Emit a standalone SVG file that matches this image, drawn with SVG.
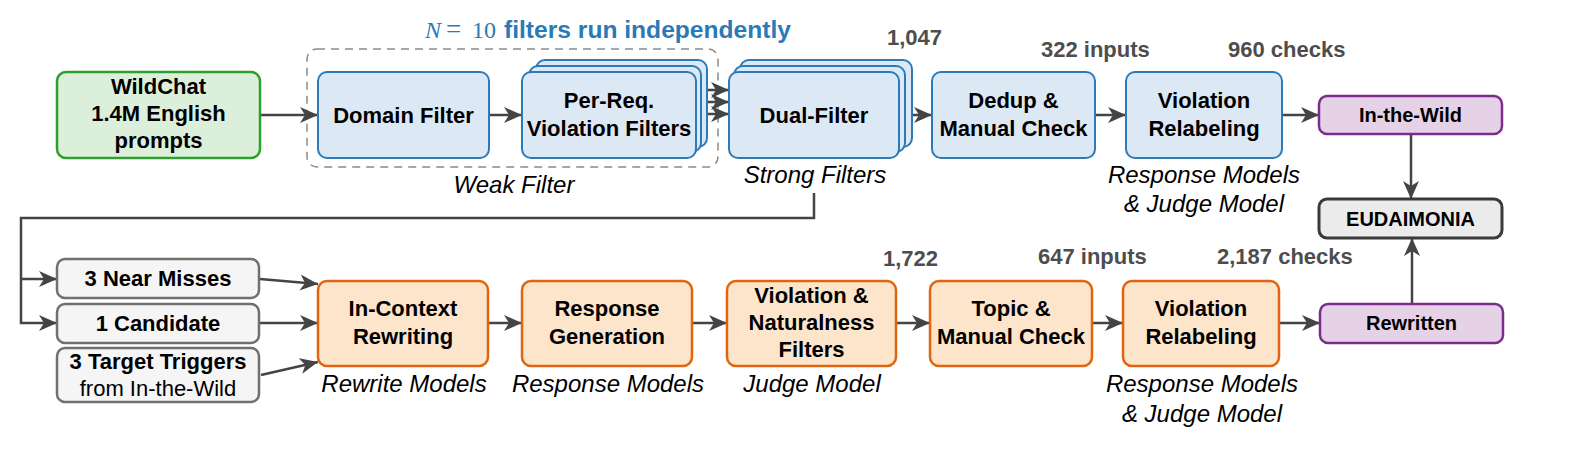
<svg xmlns="http://www.w3.org/2000/svg" width="1570" height="451" viewBox="0 0 1570 451">
<defs>
<marker id="arr" markerUnits="userSpaceOnUse" markerWidth="20" markerHeight="18" refX="18" refY="8" orient="auto">
<path d="M0,0 L18,8 L0,16 L5,8 Z" fill="#444"/>
</marker>
<style>
.t{font-family:"Liberation Sans",Arial,sans-serif;font-weight:bold;font-size:22px;fill:#000;text-anchor:middle}
.s{font-size:20px}
.r{font-weight:normal}
.i{font-family:"Liberation Sans",Arial,sans-serif;font-style:italic;font-size:24px;fill:#000;text-anchor:middle}
.n{font-family:"Liberation Sans",Arial,sans-serif;font-weight:bold;font-size:22px;fill:#4d4d4d}
.blue{fill:#dde8f5;stroke:#2b7bba;stroke-width:2}
.green{fill:#dcefdb;stroke:#2e9e2e;stroke-width:2.5}
.orange{fill:#fde5cc;stroke:#e0650e;stroke-width:2.5}
.purple{fill:#e6d2e6;stroke:#7b2d8e;stroke-width:2.5}
.gray{fill:#f5f5f5;stroke:#707070;stroke-width:2.5}
.c{fill:none;stroke:#444;stroke-width:2.5}
</style>
</defs>

<!-- dashed group -->
<rect x="307" y="49" width="411" height="118" rx="10" fill="none" stroke="#8a8a8a" stroke-width="1.5" stroke-dasharray="8,6"/>
<text x="425" y="38" font-family="Liberation Serif,serif" font-style="italic" font-size="24" fill="#2a7ab8">N</text>
<text x="446" y="38" font-family="Liberation Serif,serif" font-size="27" fill="#2a7ab8">=</text>
<text x="472" y="38" font-family="Liberation Serif,serif" font-size="24" fill="#2a7ab8">10</text>
<text x="504" y="38" font-family="Liberation Sans,Arial,sans-serif" font-weight="bold" font-size="24.6" fill="#2a7ab8">filters run independently</text>
<text class="i" x="514" y="193">Weak Filter</text>
<text class="i" x="815" y="183">Strong Filters</text>
<text class="i" x="1204" y="183">Response Models</text>
<text class="i" x="1204" y="212">&amp; Judge Model</text>
<text class="i" x="404" y="392">Rewrite Models</text>
<text class="i" x="608" y="392">Response Models</text>
<text class="i" x="812" y="392">Judge Model</text>
<text class="i" x="1202" y="392">Response Models</text>
<text class="i" x="1202" y="422">&amp; Judge Model</text>

<text class="n" x="887" y="45">1,047</text>
<text class="n" x="1041" y="57">322 inputs</text>
<text class="n" x="1228" y="57">960 checks</text>
<text class="n" x="883" y="266">1,722</text>
<text class="n" x="1038" y="264">647 inputs</text>
<text class="n" x="1217" y="264">2,187 checks</text>

<g id="connectors">
<line class="c" x1="260" y1="115" x2="318" y2="115" marker-end="url(#arr)"/>
<line class="c" x1="489" y1="115" x2="522" y2="115" marker-end="url(#arr)"/>
<line class="c" x1="696" y1="90" x2="729" y2="90" marker-end="url(#arr)"/>
<line class="c" x1="696" y1="102" x2="729" y2="102" marker-end="url(#arr)"/>
<line class="c" x1="696" y1="114" x2="729" y2="114" marker-end="url(#arr)"/>
<line class="c" x1="899" y1="115" x2="932" y2="115" marker-end="url(#arr)"/>
<line class="c" x1="1095" y1="115" x2="1126" y2="115" marker-end="url(#arr)"/>
<line class="c" x1="1282" y1="115" x2="1319" y2="115" marker-end="url(#arr)"/>
<line class="c" x1="1411" y1="134" x2="1411" y2="199" marker-end="url(#arr)"/>
<line class="c" x1="1412" y1="304" x2="1412" y2="238" marker-end="url(#arr)"/>
<polyline class="c" points="814,193 814,218 21,218 21,323 57,323" marker-end="url(#arr)"/>
<line class="c" x1="21" y1="279" x2="57" y2="279" marker-end="url(#arr)"/>
<line class="c" x1="260" y1="279" x2="318" y2="284" marker-end="url(#arr)"/>
<line class="c" x1="260" y1="323" x2="318" y2="323" marker-end="url(#arr)"/>
<line class="c" x1="261" y1="375" x2="318" y2="362" marker-end="url(#arr)"/>
<line class="c" x1="488" y1="323" x2="522" y2="323" marker-end="url(#arr)"/>
<line class="c" x1="692" y1="323" x2="727" y2="323" marker-end="url(#arr)"/>
<line class="c" x1="896" y1="323" x2="930" y2="323" marker-end="url(#arr)"/>
<line class="c" x1="1092" y1="323" x2="1123" y2="323" marker-end="url(#arr)"/>
<line class="c" x1="1279" y1="323" x2="1320" y2="323" marker-end="url(#arr)"/>
</g>

<g id="wildchat">
<rect class="green" x="57" y="72" width="203" height="86" rx="9"/>
<text class="t" x="158.5" y="94">WildChat</text>
<text class="t" x="158.5" y="121">1.4M English</text>
<text class="t" x="158.5" y="148">prompts</text>
</g>
<g id="domain-filter">
<rect class="blue" x="318" y="72" width="171" height="86" rx="9"/>
<text class="t" x="403.5" y="123">Domain Filter</text>
</g>
<g id="per-req">
<rect class="blue" x="536" y="60" width="171" height="87" rx="9"/>
<rect class="blue" x="529" y="66" width="172" height="86" rx="9"/>
<rect class="blue" x="522" y="72" width="174" height="86" rx="9"/>
<text class="t" x="609" y="108">Per-Req.</text>
<text class="t" x="609" y="136">Violation Filters</text>
</g>
<g id="dual-filter">
<rect class="blue" x="740" y="60" width="172" height="87" rx="9"/>
<rect class="blue" x="734" y="66" width="171" height="86" rx="9"/>
<rect class="blue" x="729" y="72" width="170" height="86" rx="9"/>
<text class="t" x="814" y="123">Dual-Filter</text>
</g>
<g id="dedup">
<rect class="blue" x="932" y="72" width="163" height="86" rx="9"/>
<text class="t" x="1013.5" y="108">Dedup &amp;</text>
<text class="t" x="1013.5" y="136">Manual Check</text>
</g>
<g id="relabel-top">
<rect class="blue" x="1126" y="72" width="156" height="86" rx="9"/>
<text class="t" x="1204" y="108">Violation</text>
<text class="t" x="1204" y="136">Relabeling</text>
</g>
<g id="in-the-wild">
<rect class="purple" x="1319" y="96" width="183" height="38" rx="8"/>
<text class="t s" x="1410.5" y="122">In-the-Wild</text>
</g>
<g id="eudaimonia">
<rect x="1319" y="199" width="183" height="39" rx="8" fill="#ebebeb" stroke="#3a3a3a" stroke-width="3"/>
<text class="t s" x="1410.5" y="226">EUDAIMONIA</text>
</g>
<g id="rewritten">
<rect class="purple" x="1320" y="304" width="183" height="39" rx="8"/>
<text class="t s" x="1411.5" y="330">Rewritten</text>
</g>
<g id="near-misses">
<rect class="gray" x="57" y="259" width="202" height="39" rx="8"/>
<text class="t" x="158" y="286">3 Near Misses</text>
</g>
<g id="candidate">
<rect class="gray" x="57" y="304" width="202" height="39" rx="8"/>
<text class="t" x="158" y="331">1 Candidate</text>
</g>
<g id="target-triggers">
<rect class="gray" x="57" y="348" width="202" height="54" rx="8"/>
<text class="t" x="158" y="369">3 Target Triggers</text>
<text class="t r" x="158" y="396">from In-the-Wild</text>
</g>
<g id="in-context">
<rect class="orange" x="318" y="281" width="170" height="85" rx="9"/>
<text class="t" x="403" y="316">In-Context</text>
<text class="t" x="403" y="344">Rewriting</text>
</g>
<g id="response-gen">
<rect class="orange" x="522" y="281" width="170" height="85" rx="9"/>
<text class="t" x="607" y="316">Response</text>
<text class="t" x="607" y="344">Generation</text>
</g>
<g id="violation-naturalness">
<rect class="orange" x="727" y="281" width="169" height="85" rx="9"/>
<text class="t" x="811.5" y="303">Violation &amp;</text>
<text class="t" x="811.5" y="330">Naturalness</text>
<text class="t" x="811.5" y="357">Filters</text>
</g>
<g id="topic">
<rect class="orange" x="930" y="281" width="162" height="85" rx="9"/>
<text class="t" x="1011" y="316">Topic &amp;</text>
<text class="t" x="1011" y="344">Manual Check</text>
</g>
<g id="relabel-bottom">
<rect class="orange" x="1123" y="281" width="156" height="85" rx="9"/>
<text class="t" x="1201" y="316">Violation</text>
<text class="t" x="1201" y="344">Relabeling</text>
</g>
</svg>
